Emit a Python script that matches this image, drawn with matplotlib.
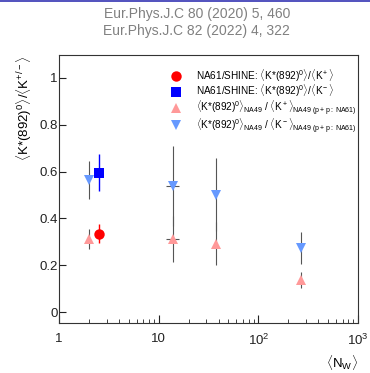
import numpy as np
import matplotlib
matplotlib.use('Agg')
import matplotlib.pyplot as plt
from matplotlib.lines import Line2D
from matplotlib.ticker import FixedLocator, LogLocator, NullFormatter

plt.rcParams['font.family'] = ['Liberation Sans', 'DejaVu Sans']
plt.rcParams['mathtext.fontset'] = 'custom'
plt.rcParams['mathtext.rm'] = 'Liberation Sans'
plt.rcParams['mathtext.it'] = 'Liberation Sans:italic'
plt.rcParams['mathtext.bf'] = 'Liberation Sans:bold'

# NA49 points (p+p point from NA61), <N_W>
nw_na49 = [2.0, 13.9, 37.6, 267.0]
nw_na49_err = [0.0, 2.0, 0.0, 0.0]
kp_na49 = [0.312, 0.312, 0.291, 0.137]
kp_na49_err = [0.043, 0.100, 0.092, 0.034]
km_na49 = [0.564, 0.538, 0.500, 0.275]
km_na49_err = [0.080, 0.171, 0.156, 0.068]

# NA61/SHINE p+p
nw_na61 = [2.52]
kp_na61 = [0.335]
kp_na61_err = [0.040]
km_na61 = [0.594]
km_na61_err = [0.079]

titles = ['Eur.Phys.J.C 80 (2020) 5, 460', 'Eur.Phys.J.C 82 (2022) 4, 322']
yticks = [0, 0.2, 0.4, 0.6, 0.8, 1]
yticklabels = ['0', '0.2', '0.4', '0.6', '0.8', '1']
xticks = [1, 10, 100, 1000]
xticklabels = ['1', '10', r'10$^2$', r'10$^3$']
legend_labels = [
    r'NA61/SHINE: $\langle$K*(892)$^0\rangle$/$\langle$K$^+\rangle$',
    r'NA61/SHINE: $\langle$K*(892)$^0\rangle$/$\langle$K$^-\rangle$',
    r'$\langle$K*(892)$^0\rangle_{\rm NA49}$ / $\langle$K$^+\rangle_{\rm NA49\ (p+p:\ NA61)}$',
    r'$\langle$K*(892)$^0\rangle_{\rm NA49}$ / $\langle$K$^-\rangle_{\rm NA49\ (p+p:\ NA61)}$',
]

fig = plt.figure(figsize=(3.7, 3.73), dpi=100)
ax = fig.add_axes([0.1595, 0.134, 0.808, 0.7185])

fig.add_artist(Line2D([0, 1], [0.998, 0.998], color='#3333b3', lw=1.2))
fig.text(0.532, 0.963, titles[0], ha='center', va='center', fontsize=10, color='#808080')
fig.text(0.532, 0.916, titles[1], ha='center', va='center', fontsize=10, color='#808080')

red = '#ff0000'
blue = '#0000ff'
pink = '#ff9999'
lblue = '#6699ff'
grey = '#555555'

ax.errorbar(nw_na49, kp_na49, yerr=kp_na49_err, xerr=nw_na49_err, fmt='^', ms=7.5, mew=0,
            color=pink, ecolor=grey, elinewidth=0.8, capsize=1.5, capthick=0.8, zorder=3)
ax.errorbar(nw_na49, km_na49, yerr=km_na49_err, xerr=nw_na49_err, fmt='v', ms=7.5, mew=0,
            color=lblue, ecolor=grey, elinewidth=0.8, capsize=1.5, capthick=0.8, zorder=3)
ax.errorbar(nw_na61, kp_na61, yerr=kp_na61_err, fmt='o', ms=7.5, mew=0, color=red,
            elinewidth=1.0, capsize=1.5, capthick=1.0, zorder=4)
ax.errorbar(nw_na61, km_na61, yerr=km_na61_err, fmt='s', ms=7.5, mew=0, color=blue,
            elinewidth=1.0, capsize=1.5, capthick=1.0, zorder=4)

ax.set_xscale('log')
ax.set_xlim(1, 1000)
ax.set_ylim(-0.047, 1.098)
ax.xaxis.set_major_locator(FixedLocator(xticks))
ax.set_xticklabels(xticklabels)
ax.xaxis.set_minor_locator(LogLocator(base=10, subs=np.arange(2, 10)))
ax.xaxis.set_minor_formatter(NullFormatter())
ax.set_yticks(yticks)
ax.set_yticklabels(yticklabels)
ax.tick_params(axis='both', which='both', direction='in', top=False, right=False, colors='#222222')
ax.tick_params(axis='x', which='major', length=6, pad=7, labelsize=9.5)
ax.tick_params(axis='x', which='minor', length=3)
ax.tick_params(axis='y', which='major', length=5, pad=1, labelsize=9.5)
for s in ax.spines.values():
    s.set_linewidth(0.8)
    s.set_color('#333333')

ax.set_ylabel(r'$\langle$K*(892)$^0\rangle$/$\langle$K$^{+/-}\rangle$', loc='top', fontsize=9.5, labelpad=4)
ax.set_xlabel(r'$\langle$N$_{\rm W}\rangle$', loc='right', fontsize=9.5, labelpad=4)

handles = [Line2D([], [], ls='none', marker=m, ms=7.5, mew=0, color=c)
           for m, c in zip(['o', 's', '^', 'v'], [red, blue, pink, lblue])]
ax.legend(handles, legend_labels, loc='upper left', bbox_to_anchor=(0.36, 0.968),
          frameon=False, fontsize=7.2, handlelength=1.0, handletextpad=1.5,
          labelspacing=-0.1, borderaxespad=0)

fig.savefig('out.png', dpi=100)
